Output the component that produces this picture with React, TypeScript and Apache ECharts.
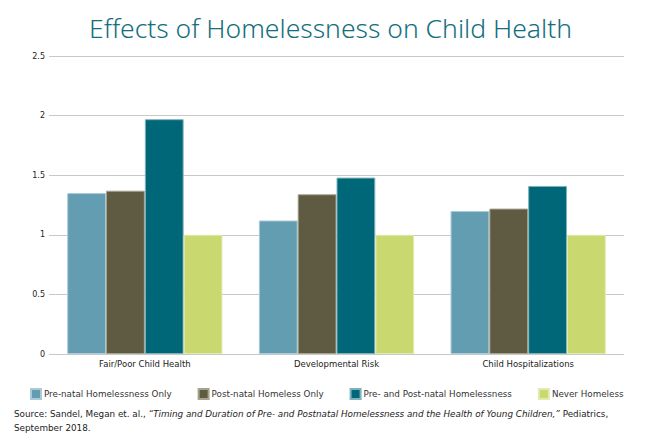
import React, { useEffect, useRef } from "react";
import * as echarts from "echarts";

const categories = ["Fair/Poor Child Health", "Developmental Risk", "Child Hospitalizations"];
const seriesNames = [
  "Pre-natal Homelessness Only",
  "Post-natal Homeless Only",
  "Pre- and Post-natal Homelessness",
  "Never Homeless",
];
const prenatal = [1.35, 1.12, 1.2];
const postnatal = [1.37, 1.34, 1.22];
const prePost = [1.97, 1.48, 1.41];
const never = [1.0, 1.0, 1.0];
const colors = ["#639db1", "#5f5a42", "#006778", "#c9d96f"];
const borderColors = ["#a9cad6", "#a7a38f", "#7fb3bc", "#e1ebb0"];

const FONT = "Noto Sans";
const SMALL = "DejaVu Sans";

export default function App() {
  const ref = useRef<HTMLDivElement>(null);
  useEffect(() => {
    const chart = echarts.init(ref.current!, undefined, { renderer: "svg" });
    const values = [prenatal, postnatal, prePost, never];
    chart.setOption({
      animation: false,
      backgroundColor: "#ffffff",
      textStyle: { fontFamily: SMALL },
      title: {
        text: "Effects of Homelessness on Child Health",
        left: 84,
        top: 9,
        textStyle: {
          fontFamily: FONT,
          fontWeight: 300,
          fontSize: 26.5,
          color: "#136f7d",
        },
      },
      legend: {
        left: 25,
        top: 383,
        itemWidth: 10,
        itemHeight: 10,
        itemGap: 26,
        icon: "rect",
        textStyle: { fontFamily: SMALL, fontSize: 8.75, color: "#333", padding: [0, 0, 0, -2] },
        data: seriesNames,
      },
      grid: { left: 49, right: 26, top: 56, bottom: 86, containLabel: false },
      xAxis: {
        type: "category",
        data: categories,
        axisLine: { show: false },
        axisTick: { show: false },
        axisLabel: { fontFamily: SMALL, fontSize: 8.5, color: "#222", margin: 5 },
      },
      yAxis: {
        type: "value",
        min: 0,
        max: 2.5,
        interval: 0.5,
        axisLine: { show: false },
        axisTick: { show: false },
        splitLine: { lineStyle: { color: "#c8c8c8", width: 1 } },
        axisLabel: { fontFamily: SMALL, fontSize: 8, color: "#222", margin: 4 },
      },
      series: seriesNames.map((name, i) => ({
        name,
        type: "bar",
        data: values[i],
        barGap: "0%",
        barCategoryGap: "19%",
        itemStyle: { color: colors[i], borderColor: borderColors[i], borderWidth: 1 },
      })),
      graphic: [
        {
          type: "text",
          left: 14,
          top: 407,
          style: {
            text:
              "Source: Sandel, Megan et. al., {i|\u201CTiming and Duration of Pre- and Postnatal Homelessness and the Health of Young Children,\u201D} Pediatrics,\nSeptember 2018.",
            fontFamily: SMALL,
            fontSize: 8.8,
            lineHeight: 14,
            fill: "#222",
            rich: {
              i: { fontStyle: "italic", fontFamily: SMALL, fontSize: 8.8, fill: "#222" },
            },
          },
        },
      ],
    });
    return () => chart.dispose();
  }, []);
  return <div ref={ref} style={{ width: 650, height: 440, position: "absolute", left: 0, top: 0 }} />;
}
